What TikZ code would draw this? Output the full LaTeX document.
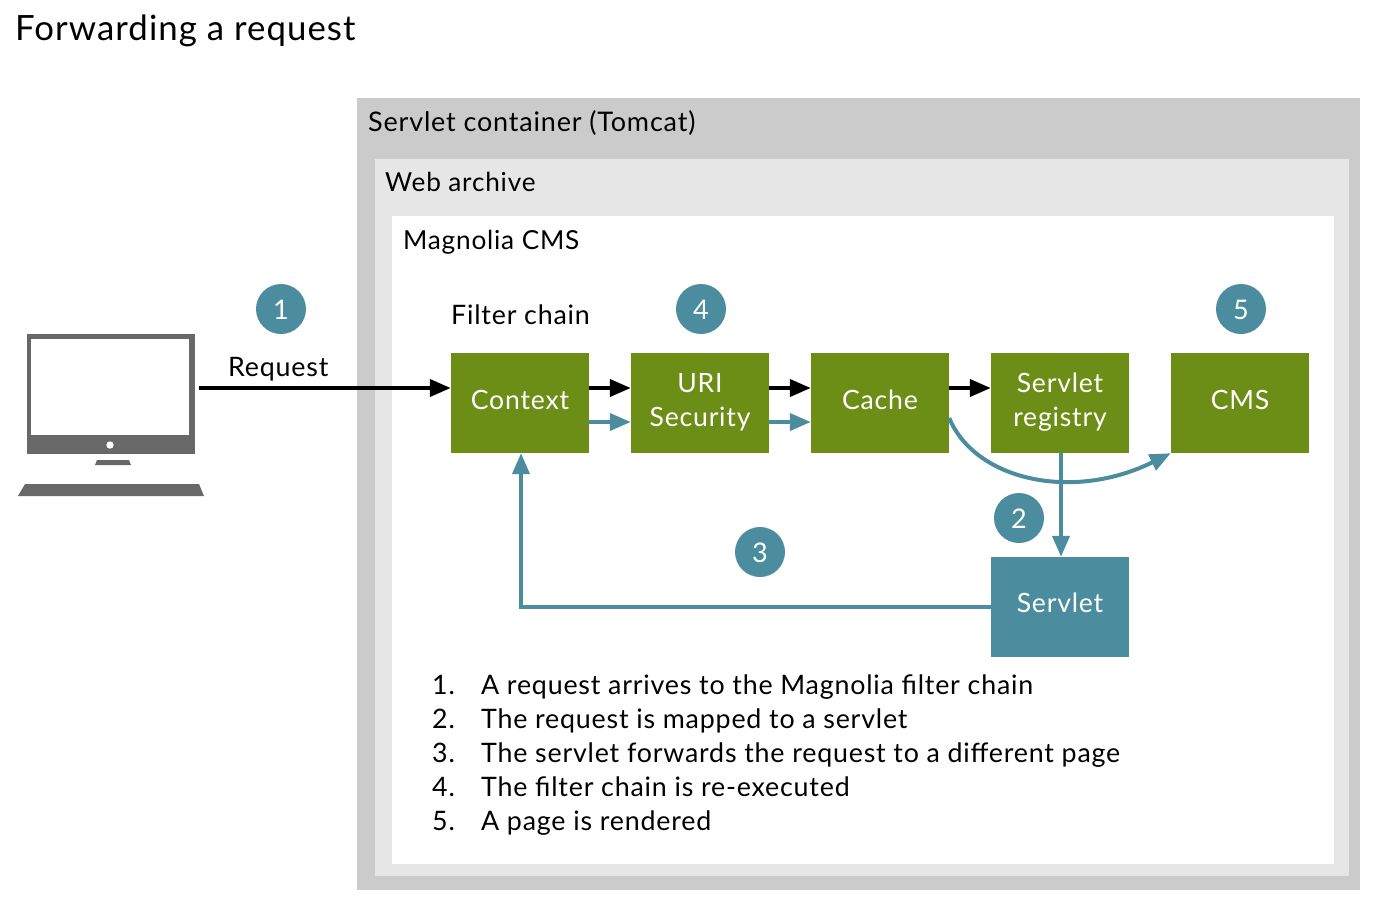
\documentclass[tikz,border=0pt]{standalone}
\usepackage{fontspec}
\setmainfont[LetterSpace=3]{Lato}
\usetikzlibrary{arrows.meta}
\definecolor{boxgreen}{HTML}{6C8E17}
\definecolor{stepteal}{HTML}{4B8D9F}
\definecolor{outergray}{HTML}{CBCBCB}
\definecolor{innergray}{HTML}{E6E6E6}
\definecolor{pcgray}{HTML}{686868}
\tikzset{
	filterbox/.style={fill=boxgreen, text=white, minimum width=138pt, minimum height=100pt, inner sep=0pt, align=center, text depth=6pt, font=\fontsize{26.6}{34}\selectfont},
	servletbox/.style={filterbox, fill=stepteal, text depth=8pt},
	stepdot/.style={circle, fill=stepteal, text=white, minimum size=50pt, inner sep=0pt, text height=21pt, text depth=0pt, font=\fontsize{27}{34}\selectfont},
	label/.style={anchor=base west, inner sep=0pt, font=\fontsize{26.8}{34}\selectfont},
	blackarrow/.style={line width=4pt, black, -{Triangle[length=21pt,width=17pt]}},
	tealarrow/.style={line width=4pt, stepteal, -{Triangle[length=21pt,width=17pt]}}
}
\begin{document}
\begin{tikzpicture}[x=1pt,y=-1pt]
	\useasboundingbox (0,0) rectangle (1376,906);

	\fill[outergray] (357,98) rectangle (1360,890);
	\fill[innergray] (375,159) rectangle (1349,876);
	\fill[white] (392,216) rectangle (1334,864);

	% computer
	\fill[pcgray] (27,334) rectangle (195,454);
	\fill[white] (31,339) rectangle (189,435);
	\fill[white] (110,445) circle(3.7);
	\fill[pcgray] (97,460) -- (129,460) -- (131,465) -- (95,465) -- cycle;
	\fill[pcgray] (25,484) -- (199,484) -- (204,496) -- (18,496) -- cycle;
	\coordinate (pc) at (199,388);

	\node[label, font=\fontsize{34.8}{40}\selectfont] (title) at (15,40) {Forwarding a request};
	\node[label, font=\fontsize{27}{34}\selectfont] (tomcat) at (368,131) {Servlet container (Tomcat)};
	\node[label, font=\fontsize{26.2}{34}\selectfont] (war) at (385,191) {Web archive};
	\node[label, font=\fontsize{26.2}{34}\selectfont] (magnolia) at (403,249) {Magnolia CMS};
	\node[label] (chain) at (451,324) {Filter chain};
	\node[label] (request) at (228,376) {Request};

	\node[filterbox] (context) at (520,403) {Context};
	\node[filterbox, text depth=6.5pt] (uri) at (700,403) {URI\\Security};
	\node[filterbox] (cache) at (880,403) {Cache};
	\node[filterbox, text depth=6.5pt] (registry) at (1060,403) {Servlet\\registry};
	\node[filterbox] (cms) at (1240,403) {CMS};
	\node[servletbox] (servlet) at (1060,607) {Servlet};

	\draw[blackarrow] (pc) -- (pc -| context.west);
	\draw[blackarrow] ([yshift=15pt]context.east) -- ([yshift=15pt]uri.west);
	\draw[blackarrow] ([yshift=15pt]uri.east) -- ([yshift=15pt]cache.west);
	\draw[blackarrow] ([yshift=15pt]cache.east) -- ([yshift=15pt]registry.west);
	\draw[tealarrow] ([yshift=-19pt]context.east) -- ([yshift=-19pt]uri.west);
	\draw[tealarrow] ([yshift=-19pt]uri.east) -- ([yshift=-19pt]cache.west);

	\draw[tealarrow] ([yshift=-15pt]cache.east) .. controls (975,480) and (1072,502) .. (cms.south west);
	\draw[tealarrow] ([xshift=1pt]registry.south) -- ([xshift=1pt]servlet.north);
	\draw[tealarrow] (servlet.west) -| ([xshift=1pt]context.south);

	\node[stepdot] (one) at (281,309) {1};
	\node[stepdot] (two) at (1019,518) {2};
	\node[stepdot] (three) at (760,552) {3};
	\node[stepdot] (four) at (701,309) {4};
	\node[stepdot] (five) at (1241,309) {5};

	\node[label] (n1) at (432,694) {1.};
	\node[label] (n2) at (432,728) {2.};
	\node[label] (n3) at (432,762) {3.};
	\node[label] (n4) at (432,796) {4.};
	\node[label] (n5) at (432,830) {5.};
	\node[label] (s1) at (481,694) {A request arrives to the Magnolia filter chain};
	\node[label] (s2) at (481,728) {The request is mapped to a servlet};
	\node[label] (s3) at (481,762) {The servlet forwards the request to a different page};
	\node[label] (s4) at (481,796) {The filter chain is re-executed};
	\node[label] (s5) at (481,830) {A page is rendered};

\end{tikzpicture}
\end{document}
